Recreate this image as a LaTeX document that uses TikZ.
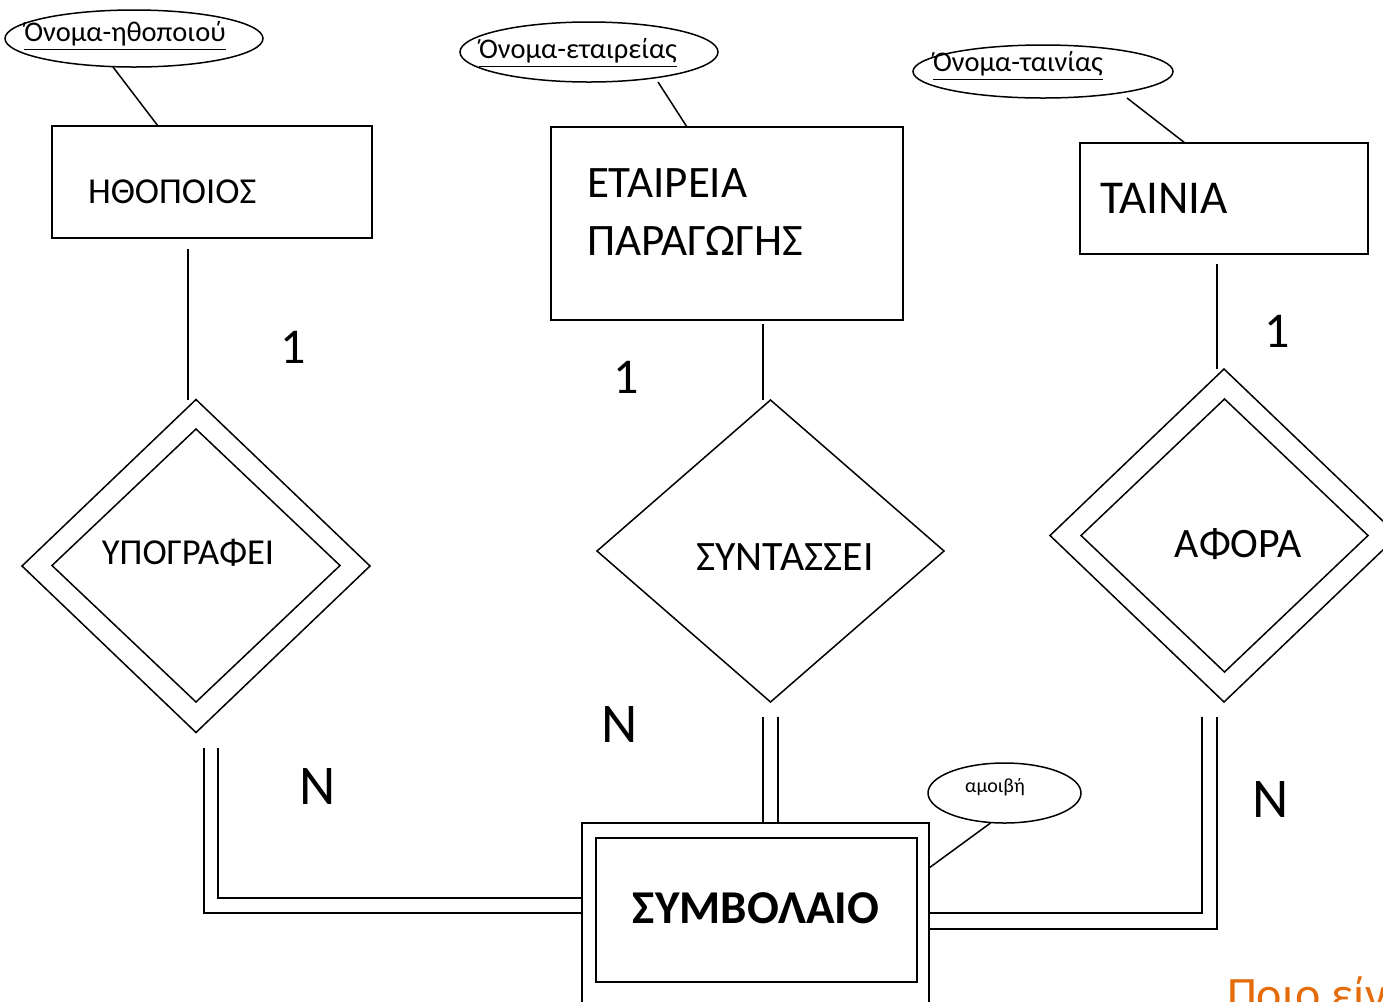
\documentclass[tikz,border=0pt]{standalone}
\usepackage{fontspec}
\setmainfont{Carlito}
\usetikzlibrary{shapes.geometric,calc}
\definecolor{orangetxt}{RGB}{228,108,10}
\begin{document}
\begin{tikzpicture}[x=0.2mm,y=-0.2mm,
  ent/.style={draw,rectangle,line width=0.35mm,inner sep=0,outer sep=0},
  rel/.style={draw,diamond,line width=0.3mm,inner sep=0,outer sep=0},
  attr/.style={draw,ellipse,line width=0.3mm,inner sep=0,outer sep=0},
  lbl/.style={inner sep=0,outer sep=0},
  conn/.style={line width=0.3mm},
  etxt/.style={lbl,font=\fontsize{20.8pt}{24pt}\selectfont},
  atxt/.style={lbl,font=\fontsize{16.2pt}{18pt}\selectfont},
  card/.style={lbl,font=\fontsize{28.5pt}{32pt}\selectfont},
  cardn/.style={lbl,font=\fontsize{31.9pt}{36pt}\selectfont}
]
\useasboundingbox (0,0) rectangle (1383,1001);
\clip (0,0) rectangle (1383,1001);

% entities
\node[ent,minimum width=64mm,minimum height=22.4mm] (b1) at (212,182) {};
\node[etxt,anchor=west] (t1) at (88,191.5) {ΗΘΟΠΟΙΟΣ};

\node[ent,minimum width=70.4mm,minimum height=38.6mm] (b2) at (727,223.5) {};
\node[lbl,anchor=west,font=\fontsize{25.6pt}{28pt}\selectfont] (t2a) at (587,183.5) {ΕΤΑΙΡΕΙΑ};
\node[lbl,anchor=west,font=\fontsize{25.6pt}{28pt}\selectfont] (t2b) at (587,241) {ΠΑΡΑΓΩΓΗΣ};

\node[ent,minimum width=57.6mm,minimum height=22.2mm] (b3) at (1224,198.5) {};
\node[lbl,anchor=west,font=\fontsize{26.8pt}{30pt}\selectfont] (t3) at (1100,198) {ΤΑΙΝΙΑ};

% weak entity
\node[ent,anchor=north west,minimum width=69.4mm,minimum height=44mm] (so) at (582,823) {};
\node[ent,minimum width=64.2mm,minimum height=28.8mm] (si) at (756.5,910) {};
\node[lbl,font=\fontsize{26.8pt}{30pt}\selectfont\bfseries] (ts) at (756,908) {ΣΥΜΒΟΛΑΙΟ};

% relationships
\node[rel,minimum width=69.6mm,minimum height=66.6mm] (d1o) at (196,566) {};
\node[rel,minimum width=57.6mm,minimum height=54.6mm] (d1i) at (196,565.5) {};
\node[etxt] (td1) at (188,553) {ΥΠΟΓΡΑΦΕΙ};

\node[rel,minimum width=69.4mm,minimum height=60.4mm] (d2) at (770.5,551) {};
\node[lbl,font=\fontsize{23.8pt}{26pt}\selectfont] (td2) at (785,557) {ΣΥΝΤΑΣΣΕΙ};

\node[rel,minimum width=69.6mm,minimum height=66.6mm] (d3o) at (1224,535.5) {};
\node[rel,minimum width=57.4mm,minimum height=54.6mm] (d3i) at (1224.5,535.5) {};
\node[lbl,font=\fontsize{23.8pt}{26pt}\selectfont] (td3) at (1238,544) {ΑΦΟΡΑ};

% attributes
\node[attr,minimum width=51.6mm,minimum height=11.4mm] (e1) at (134,38.5) {};
\node[atxt] (te1) at (125,36) {\underline{Όνομα-ηθοποιού}};
\node[attr,minimum width=51.6mm,minimum height=12mm] (e2) at (589,52) {};
\node[atxt] (te2) at (578,53) {\underline{Όνομα-εταιρείας}};
\node[attr,minimum width=52mm,minimum height=10.6mm] (e3) at (1043,71.5) {};
\node[atxt] (te3) at (1018,66) {\underline{Όνομα-ταινίας}};
\node[attr,minimum width=30.6mm,minimum height=12mm] (e4) at (1004.5,793) {};
\node[lbl,font=\fontsize{11.4pt}{13pt}\selectfont] (te4) at (995,787) {αμοιβή};

% attribute links
\draw[conn] ($(e1.south)+(-21,0)$) -- ($(b1.north west)+(106,0)$);
\draw[conn] ($(e2.south)+(69,0)$) -- ($(b2.north west)+(136,0)$);
\draw[conn] ($(e3.south)+(84,0)$) -- ($(b3.north west)+(105,0)$);
\draw[conn] ($(e4.south)+(-14,0)$) -- ($(so.north east)+(0,45)$);

% single links entity -> relationship
\draw[conn] ($(b1.south west)+(136,11)$) coordinate (p1) -- (p1 |- d1o.north);
\draw[conn] ($(b2.south west)+(212,4)$) coordinate (p2) -- (p2 |- d2.north);
\draw[conn] ($(b3.south west)+(137,10)$) coordinate (p3) -- (p3 |- d3o.north);

% double links relationship -> weak entity
\draw[conn] ($(d1o.south)+(8,15)$) |- ($(so.north west)+(0,90)$);
\draw[conn] ($(d1o.south)+(22,15)$) |- ($(so.north west)+(0,75)$);
\draw[conn] ($(d2.south)+(-7.5,15)$) coordinate (q1) -- (q1 |- so.north);
\draw[conn] ($(d2.south)+(7.5,15)$) coordinate (q2) -- (q2 |- so.north);
\draw[conn] ($(d3o.south)+(-22,15)$) |- ($(so.north east)+(0,90)$);
\draw[conn] ($(d3o.south)+(-7,15)$) |- ($(so.north east)+(0,106)$);

% cardinalities
\node[card] (c1) at (293,347) {1};
\node[card] (c2) at (626,377) {1};
\node[card] (c3) at (1277,331) {1};
\node[cardn] (n1) at (318,787) {N};
\node[cardn] (n2) at (620,725) {N};
\node[cardn] (n3) at (1271,800) {N};

% clipped caption
\node[lbl,anchor=base west,text=orangetxt,font=\fontsize{27.3pt}{32pt}\selectfont] (cap) at (1227,1010) {Ποιο είν};
\end{tikzpicture}
\end{document}
